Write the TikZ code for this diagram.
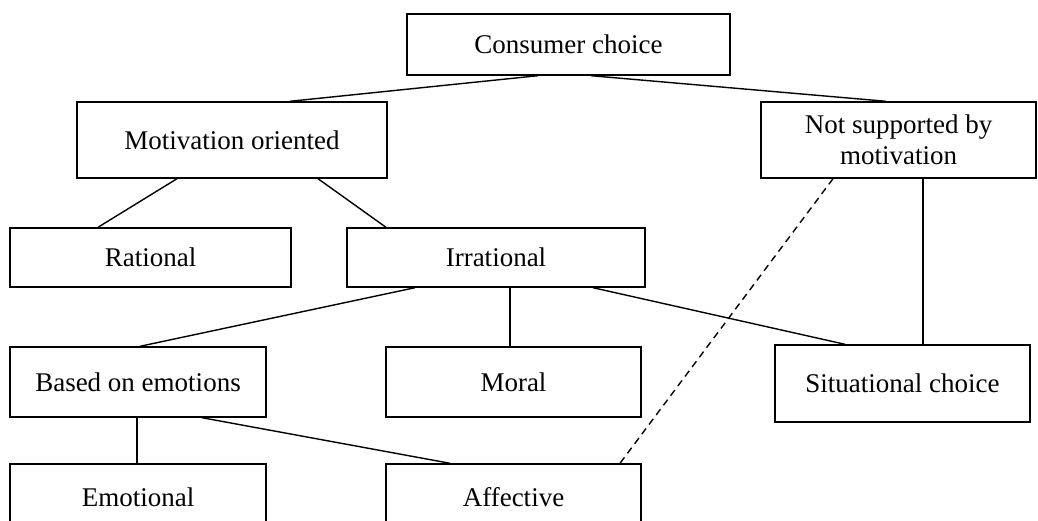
\documentclass[tikz,border=0pt]{standalone}
\usepackage{fontspec}
\setmainfont{Liberation Serif}
\tikzset{
  box/.style={draw, line width=1.4pt, inner sep=0pt, align=center,
    font=\fontsize{27}{31}\selectfont},
  link/.style={line width=1.4pt},
  dashlink/.style={line width=1.4pt, dash pattern=on 7pt off 5pt}
}
\begin{document}
\begin{tikzpicture}[x=1pt,y=-1pt]
\useasboundingbox (0,0) rectangle (1038,521);
\clip (0,0) rectangle (1038,521);
% level 0
\node[box, minimum width=323pt, minimum height=61pt] (consumer) at (568.5,44.5) {Consumer choice};
% level 1
\node[box, minimum width=310pt, minimum height=76pt] (motiv) at (232,140) {Motivation oriented};
\node[box, minimum width=275pt, minimum height=76pt] (notsup) at (898.5,140) {Not supported by\\motivation};
% level 2
\node[box, minimum width=281pt, minimum height=59pt] (rational) at (150.5,257.5) {Rational};
\node[box, minimum width=298pt, minimum height=59pt] (irr) at (496,257.5) {Irrational};
% level 3
\node[box, minimum width=256pt, minimum height=70pt] (based) at (138,382) {Based on emotions};
\node[box, minimum width=255pt, minimum height=70pt] (moral) at (513.5,382) {Moral};
\node[box, minimum width=255pt, minimum height=77pt] (situ) at (902.5,383.5) {Situational choice};
% level 4
\node[box, minimum width=256pt, minimum height=66pt] (emotional) at (138,497) {Emotional};
\node[box, minimum width=255pt, minimum height=66pt] (affective) at (513.5,497) {Affective};
% connectors
\draw[link] ([xshift=-30.5pt]consumer.south) -- ([xshift=58pt]motiv.north);
\draw[link] ([xshift=22.5pt]consumer.south) -- ([xshift=-12.5pt]notsup.north);
\draw[link] ([xshift=-55pt]motiv.south) -- ([xshift=-52.5pt]rational.north);
\draw[link] ([xshift=86pt]motiv.south) -- ([xshift=-110pt]irr.north);
\draw[link] ([xshift=-81pt]irr.south) -- ([xshift=2pt]based.north);
\draw[link] ([xshift=14pt]irr.south) -- ([xshift=-3.5pt]moral.north);
\draw[link] ([xshift=97pt]irr.south) -- ([xshift=-57.5pt]situ.north);
\draw[link] ([xshift=24.5pt]notsup.south) -- ([xshift=20.5pt]situ.north);
\draw[link] ([xshift=-1pt]based.south) -- ([xshift=-1pt]emotional.north);
\draw[link] ([xshift=64pt]based.south) -- ([xshift=-63.5pt]affective.north);
\draw[dashlink] ([xshift=-65.5pt]notsup.south) -- ([xshift=106.5pt]affective.north);
\end{tikzpicture}
\end{document}
